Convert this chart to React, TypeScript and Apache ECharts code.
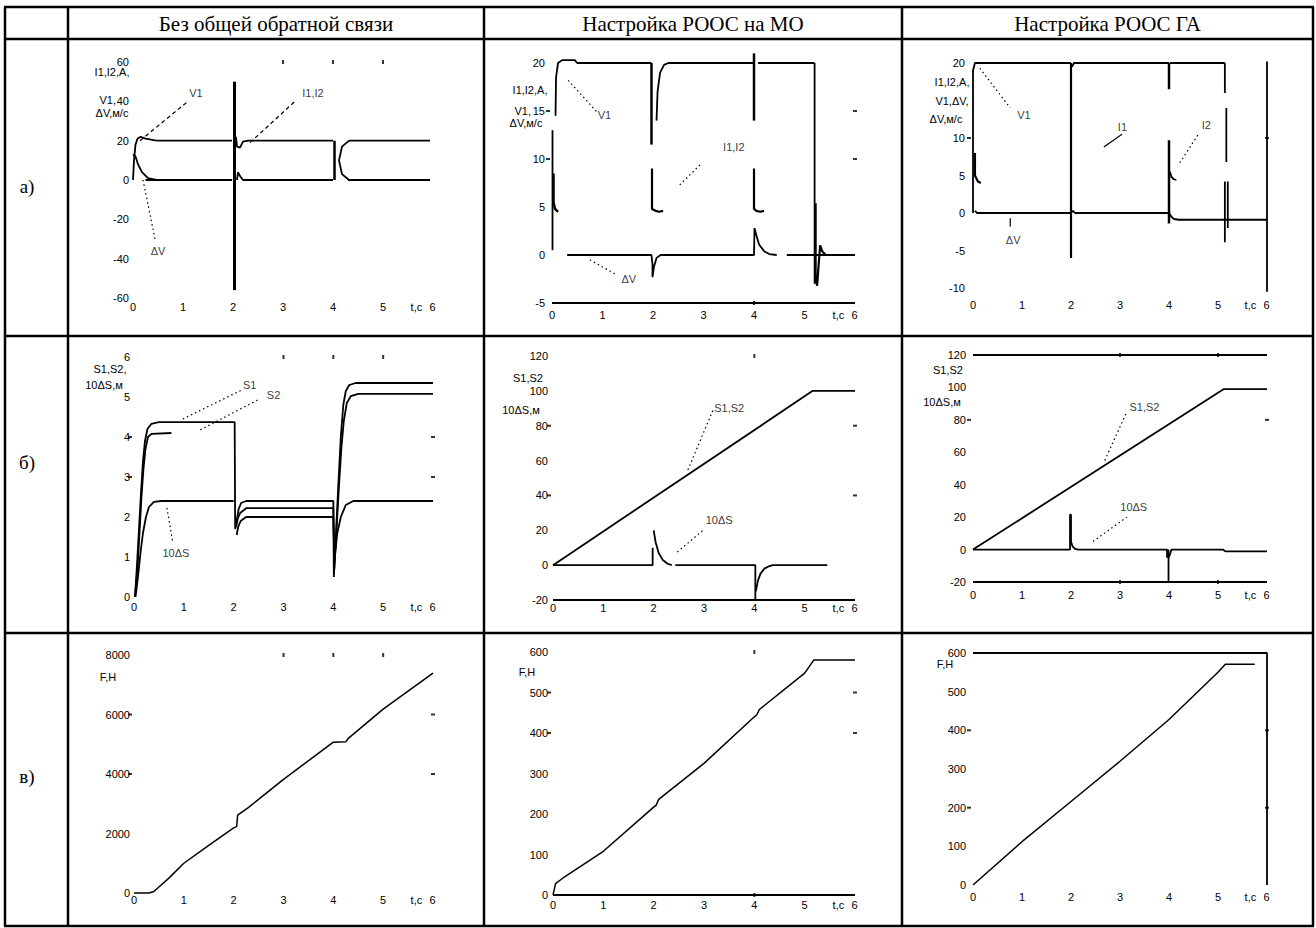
import React, { useEffect, useRef } from 'react';
import * as echarts from 'echarts';

type P = number[][];

// ---------- shared ----------
const X_TICKS = [0, 1, 2, 3, 4, 5, 6];
const HEADERS = ['Без общей обратной связи', 'Настройка РООС на МО', 'Настройка РООС ГА'];
const ROWS = ['а)', 'б)', 'в)'];

// ---------- row а, column 1 ----------
const a1YTicks = [60, 40, 20, 0, -20, -40, -60];
const a1StartUp = [[0, 0], [0.02, 10], [0.05, 18], [0.09, 21], [0.15, 22], [0.25, 21], [0.47, 20]];
const a1StartDown = [[0, 13], [0.05, 12], [0.1, 8], [0.18, 4], [0.3, 1], [0.47, 0]];
const a1Upper1 = [[0.47, 20], [1.98, 20]];
const a1Spike = [[2.03, 50], [2.03, -56]];
const a1Upper2 = [[2.06, 22], [2.08, 17], [2.14, 16.5], [2.2, 19.5], [2.3, 20], [4.0, 20]];
const a1Upper3 = [[4.32, 20], [5.94, 20]];
const a1Lower1 = [[0.25, 0], [1.98, 0]];
const a1Lower2 = [[2.08, 0], [2.1, 4], [2.14, 2], [2.2, 0], [4.0, 0]];
const a1Lower3 = [[4.3, 0], [5.94, 0]];
const a1Step4 = [[4.03, 20], [4.03, 0]];
const a1Curve4 = [[4.32, 20], [4.18, 17], [4.12, 10], [4.18, 3], [4.32, 0]];
const a1LeadV1 = [[0.14, 20], [1.1, 40]];
const a1LeadI = [[2.34, 19], [3.24, 40]];
const a1LeadDV = [[0.2, 0], [0.44, -30]];
const a1NoteV1 = [1.26, 44];
const a1NoteI = [3.6, 44];
const a1NoteDV = [0.5, -36];
const a1Top = [3, 4, 5];

// ---------- row а, column 2 ----------
const a2YTicks = [20, 15, 10, 5, 0, -5];
const a2Left = [[0.01, 13], [0.01, 0.5]];
const a2StartV = [[0.07, 14.5], [0.08, 18.5], [0.12, 20], [0.2, 20.3], [0.45, 20.3], [0.5, 20], [1.97, 20]];
const a2StartI = [[0.03, 8.5], [0.03, 5.5], [0.06, 4.8], [0.12, 4.5]];
const a2Drop2 = [[1.97, 20], [1.97, 11.5]];
const a2Rise2 = [[2.07, 14], [2.09, 17], [2.14, 19], [2.22, 19.8], [2.3, 20], [4.0, 20]];
const a2I2 = [[1.98, 9], [1.98, 4.8], [2.05, 4.6], [2.12, 4.5], [2.2, 4.6]];
const a2Drop4 = [[4.0, 21], [4.0, 14]];
const a2Top3 = [[4.08, 20], [5.2, 20]];
const a2I4 = [[4.0, 9], [4.0, 4.8], [4.05, 4.6], [4.12, 4.5], [4.2, 4.6]];
const a2Drop5 = [[5.2, 20], [5.2, -3]];
const a2Osc5 = [[5.22, 5.4], [5.22, -2.5], [5.25, -3.2], [5.28, -1], [5.31, 1], [5.35, 0.4], [5.42, 0]];
const a2Dv1 = [[0.3, 0], [1.97, 0], [1.99, -1], [1.99, -2.3], [2.02, -1.2], [2.07, -0.3], [2.15, 0], [4.0, 0], [4.01, 2.8], [4.05, 2], [4.1, 1.1], [4.2, 0.4], [4.3, 0.1], [4.45, 0]];
const a2Dv2 = [[4.65, 0], [6, 0]];
const a2Frame = [[0, -5], [6, -5]];
const a2LeadV1 = [[0.32, 18.2], [0.89, 14.9]];
const a2LeadDV = [[0.75, -0.5], [1.29, -2.1]];
const a2LeadI = [[2.53, 7.3], [2.97, 9.6]];
const a2NoteV1 = [1.04, 14.6];
const a2NoteDV = [1.52, -2.5];
const a2NoteI = [3.6, 11.2];
const a2Side = [15, 10];
const a2Bottom = [4];

// ---------- row а, column 3 ----------
const a3YTicks = [20, 10, 5, 0, -5, -10];
const a3Left = [[0, 0], [0, 19], [0.04, 20], [0.08, 20], [2.0, 20]];
const a3I0 = [[0.04, 8], [0.04, 5], [0.1, 4.2], [0.16, 4]];
const a3V2 = [[2.0, 20], [2.0, -6]];
const a3Top2 = [[2.02, 19.5], [2.06, 20], [4.0, 20]];
const a3V4a = [[4.0, 20], [4.0, 16.5]];
const a3V4b = [[4.0, 9.7], [4.0, -1.4]];
const a3I4 = [[4.02, 5.5], [4.05, 4.8], [4.1, 4.5], [4.15, 4.4]];
const a3Top3 = [[4.02, 20], [5.14, 20]];
const a3V5a = [[5.14, 20], [5.14, 16]];
const a3V5b = [[5.17, 14], [5.17, 6.8]];
const a3V5c = [[5.14, 4.2], [5.14, -3.9]];
const a3V5d = [[5.2, 4.2], [5.2, -2]];
const a3Bottom = [[0.04, 0.3], [0.08, 0], [2.0, 0], [2.04, 0.3], [2.08, 0], [4.0, 0], [4.05, -0.5], [4.1, -0.8], [4.2, -0.9], [6, -0.9]];
const a3Right = [[6, 20.2], [6, -10.5]];
const a3LeadV1 = [[0.14, 19.3], [0.76, 14]];
const a3LeadI1 = [[2.67, 8.8], [3.04, 10.5]];
const a3LeadI2 = [[4.22, 6.7], [4.59, 10.4]];
const a3LeadDV = [[0.76, -0.7], [0.76, -1.8]];
const a3NoteV1 = [1.04, 13.1];
const a3NoteI1 = [3.05, 11.5];
const a3NoteI2 = [4.76, 11.7];
const a3NoteDV = [0.82, -3.6];
const a3Side = [10];

// ---------- row б, column 1 ----------
const b1YTicks = [6, 5, 4, 3, 2, 1, 0];
const b1S1 = [[0.02, 0], [0.06, 0.8], [0.1, 1.7], [0.14, 2.6], [0.18, 3.4], [0.22, 3.9], [0.27, 4.2], [0.35, 4.33], [0.5, 4.37], [2.02, 4.37], [2.03, 1.7], [2.06, 1.9], [2.1, 2.2], [2.15, 2.35], [2.25, 2.4], [4.0, 2.4], [4.01, 0.5], [4.05, 1.5], [4.1, 2.8], [4.15, 4.0], [4.2, 4.8], [4.25, 5.15], [4.32, 5.3], [4.45, 5.35], [6.0, 5.35]];
const b1S2a = [[0.02, 0], [0.07, 0.7], [0.11, 1.6], [0.15, 2.5], [0.19, 3.2], [0.23, 3.7], [0.28, 4.0], [0.35, 4.08], [0.75, 4.1]];
const b1S2b = [[2.05, 1.75], [2.08, 1.95], [2.13, 2.1], [2.25, 2.22], [4.0, 2.22], [4.02, 0.7], [4.06, 1.6], [4.11, 2.7], [4.16, 3.7], [4.21, 4.4], [4.27, 4.85], [4.35, 5.02], [4.5, 5.08], [6.0, 5.08]];
const b1dSa = [[0.03, 0], [0.08, 0.5], [0.13, 1.1], [0.18, 1.6], [0.24, 2.0], [0.3, 2.25], [0.4, 2.38], [0.55, 2.4], [2.0, 2.4]];
const b1dSb = [[2.06, 1.55], [2.09, 1.75], [2.14, 1.9], [2.25, 2.0], [4.0, 2.0], [4.02, 0.9], [4.08, 1.6], [4.15, 2.0], [4.25, 2.3], [4.4, 2.4], [6.0, 2.4]];
const b1LeadS1 = [[0.98, 4.45], [2.17, 5.18]];
const b1LeadS2 = [[1.33, 4.18], [2.49, 4.93]];
const b1LeadDS = [[0.66, 2.23], [0.78, 1.35]];
const b1NoteS1 = [2.32, 5.3];
const b1NoteS2 = [2.8, 5.05];
const b1NoteDS = [0.84, 1.1];
const b1Top = [3, 4, 5];
const b1Side = [4, 3];

// ---------- row б, column 2 ----------
const b2YTicks = [120, 100, 80, 60, 40, 20, 0, -20];
const b2S = [[0, 0], [5.16, 100], [6, 100]];
const b2dS1 = [[0, 0], [1.98, 0], [1.98, 10]];
const b2dS2 = [[2.0, 20], [2.04, 13], [2.1, 7], [2.18, 3], [2.28, 0.8], [2.36, 0]];
const b2dS3 = [[2.43, 0], [4.02, 0], [4.02, -20]];
const b2dS4 = [[4.03, -15], [4.07, -9], [4.12, -5], [4.2, -2], [4.3, -0.5], [4.37, 0], [5.45, 0]];
const b2Frame = [[0, -20], [6, -20]];
const b2LeadS = [[2.68, 54.6], [3.18, 89]];
const b2LeadDS = [[2.47, 7.5], [2.98, 20]];
const b2NoteS = [3.5, 90];
const b2NoteDS = [3.3, 26];
const b2Top = [4];
const b2Side = [80, 40];

// ---------- row б, column 3 ----------
const b3YTicks = [120, 100, 80, 60, 40, 20, 0, -20];
const b3S = [[0, 0], [5.12, 99], [6, 99]];
const b3dS1 = [[0, 0], [1.98, 0], [1.98, 21.5], [2.0, 21.5], [2.0, 5], [2.03, 2], [2.08, 0.5], [2.15, 0], [3.96, 0], [3.96, -5]];
const b3dS2 = [[3.99, 0], [3.99, -20.5]];
const b3dS3 = [[3.99, -5], [4.02, -3], [4.05, 0], [5.1, 0], [5.15, -1.1], [6, -1.1]];
const b3FrameTop = [[0, 120], [6, 120]];
const b3FrameBottom = [[0, -20], [6, -20]];
const b3LeadS = [[2.69, 55], [3.14, 85]];
const b3LeadDS = [[2.45, 5], [3.14, 20]];
const b3NoteS = [3.5, 88];
const b3NoteDS = [3.28, 26.5];
const b3Top = [3, 5];
const b3Bottom = [3, 5];
const b3Side = [80];

// ---------- row в ----------
const c1YTicks = [8000, 6000, 4000, 2000, 0];
const c1F = [[0, 0], [0.3, 0], [0.4, 50], [0.5, 200], [0.7, 500], [1, 1000], [1.5, 1600], [2.0, 2190], [2.06, 2230], [2.08, 2620], [2.3, 2880], [3, 3820], [4.0, 5070], [4.25, 5080], [4.3, 5200], [5, 6180], [6, 7390]];
const c1Top = [3, 4, 5];
const c1Side = [6000, 4000];

const c2YTicks = [600, 500, 400, 300, 200, 100, 0];
const c2F = [[0, 0], [0.05, 28], [0.2, 42], [1, 108], [2, 217], [2.05, 222], [2.1, 236], [3, 325], [4, 440], [4.05, 445], [4.1, 458], [5, 548], [5.18, 580], [6, 580]];
const c2Frame = [[0, 0], [6, 0]];
const c2Top = [4];
const c2Bottom = [4];
const c2Side = [500, 400];

const c3YTicks = [600, 500, 400, 300, 200, 100, 0];
const c3F = [[0, 0], [1, 112], [2, 216], [3, 320], [4, 428], [5, 550], [5.15, 571], [5.75, 571]];
const c3Frame = [[0, 600], [6, 600], [6, 0]];
const c3Side = [400, 200];

// ---------- layout ----------
const FONT = '"Liberation Sans", Arial, sans-serif';
const SERIF = '"Liberation Serif", "Times New Roman", serif';

interface Trace { d: P; w?: number }
interface Leader { d: P; s: 'dot' | 'dash' | 'solid' }
interface Note { at: number[]; text: string }
interface NameLine { text: string; x: number; y: number; align?: string }
interface Cell {
  box: number[];
  yMin: number; yMax: number; yStep: number; yTicks: number[];
  xMargin: number; yMargin: number;
  traces: Trace[]; leaders: Leader[]; notes: Note[];
  top?: number[]; bottom?: number[]; side?: number[];
  names: NameLine[];
}

const cells: Cell[] = [
  {
    box: [133, 62, 300, 236], yMin: -60, yMax: 60, yStep: 20, yTicks: a1YTicks, xMargin: 3, yMargin: 4,
    traces: [{ d: a1StartUp }, { d: a1StartDown }, { d: a1Upper1 }, { d: a1Spike, w: 3 }, { d: a1Upper2 }, { d: a1Upper3 }, { d: a1Lower1 }, { d: a1Lower2 }, { d: a1Lower3 }, { d: a1Step4, w: 2.5 }, { d: a1Curve4 }],
    leaders: [{ d: a1LeadV1, s: 'dash' }, { d: a1LeadI, s: 'dash' }, { d: a1LeadDV, s: 'dot' }],
    notes: [{ at: a1NoteV1, text: 'V1' }, { at: a1NoteI, text: 'I1,I2' }, { at: a1NoteDV, text: 'ΔV' }],
    top: a1Top,
    names: [{ text: 'I1,I2,A,', x: 112, y: 72 }, { text: 'V1,', x: 116, y: 100, align: 'right' }, { text: 'ΔV,м/с', x: 112, y: 113 }],
  },
  {
    box: [552, 63, 303, 240], yMin: -5, yMax: 20, yStep: 5, yTicks: a2YTicks, xMargin: 6, yMargin: 7,
    traces: [{ d: a2Left }, { d: a2StartV }, { d: a2StartI, w: 2.5 }, { d: a2Drop2, w: 2.5 }, { d: a2Rise2 }, { d: a2I2, w: 2.2 }, { d: a2Drop4, w: 2.5 }, { d: a2Top3 }, { d: a2I4, w: 2.2 }, { d: a2Drop5 }, { d: a2Osc5, w: 2.2 }, { d: a2Dv1 }, { d: a2Dv2 }, { d: a2Frame }],
    leaders: [{ d: a2LeadV1, s: 'dot' }, { d: a2LeadDV, s: 'dot' }, { d: a2LeadI, s: 'dot' }],
    notes: [{ at: a2NoteV1, text: 'V1' }, { at: a2NoteDV, text: 'ΔV' }, { at: a2NoteI, text: 'I1,I2' }],
    bottom: a2Bottom, side: a2Side,
    names: [{ text: 'I1,I2,A,', x: 530, y: 90 }, { text: 'V1,', x: 531, y: 111, align: 'right' }, { text: 'ΔV,м/с', x: 526, y: 123 }],
  },
  {
    box: [973, 63, 294, 225], yMin: -10, yMax: 20, yStep: 5, yTicks: a3YTicks, xMargin: 11, yMargin: 8,
    traces: [{ d: a3Left }, { d: a3I0, w: 2.2 }, { d: a3V2, w: 2.2 }, { d: a3Top2 }, { d: a3V4a, w: 2.5 }, { d: a3V4b, w: 2.5 }, { d: a3I4 }, { d: a3Top3 }, { d: a3V5a }, { d: a3V5b }, { d: a3V5c }, { d: a3V5d }, { d: a3Bottom }, { d: a3Right }],
    leaders: [{ d: a3LeadV1, s: 'dot' }, { d: a3LeadI1, s: 'solid' }, { d: a3LeadI2, s: 'dot' }, { d: a3LeadDV, s: 'solid' }],
    notes: [{ at: a3NoteV1, text: 'V1' }, { at: a3NoteI1, text: 'I1' }, { at: a3NoteI2, text: 'I2' }, { at: a3NoteDV, text: 'ΔV' }],
    side: a3Side,
    names: [{ text: 'I1,I2,A,', x: 952, y: 82 }, { text: 'V1,ΔV,', x: 952, y: 101 }, { text: 'ΔV,м/с', x: 946, y: 119 }],
  },
  {
    box: [134, 357, 299, 240], yMin: 0, yMax: 6, yStep: 1, yTicks: b1YTicks, xMargin: 4, yMargin: 4,
    traces: [{ d: b1S1 }, { d: b1S2a }, { d: b1S2b }, { d: b1dSa }, { d: b1dSb }],
    leaders: [{ d: b1LeadS1, s: 'dot' }, { d: b1LeadS2, s: 'dot' }, { d: b1LeadDS, s: 'dot' }],
    notes: [{ at: b1NoteS1, text: 'S1' }, { at: b1NoteS2, text: 'S2' }, { at: b1NoteDS, text: '10ΔS' }],
    top: b1Top, side: b1Side,
    names: [{ text: 'S1,S2,', x: 110, y: 369 }, { text: '10ΔS,м', x: 104, y: 385 }],
  },
  {
    box: [553, 356, 302, 244], yMin: -20, yMax: 120, yStep: 20, yTicks: b2YTicks, xMargin: 2, yMargin: 5,
    traces: [{ d: b2S }, { d: b2dS1 }, { d: b2dS2 }, { d: b2dS3 }, { d: b2dS4 }, { d: b2Frame }],
    leaders: [{ d: b2LeadS, s: 'dot' }, { d: b2LeadDS, s: 'dot' }],
    notes: [{ at: b2NoteS, text: 'S1,S2' }, { at: b2NoteDS, text: '10ΔS' }],
    top: b2Top, side: b2Side,
    names: [{ text: 'S1,S2', x: 528, y: 378 }, { text: '10ΔS,м', x: 521, y: 410 }],
  },
  {
    box: [973, 355, 294, 227], yMin: -20, yMax: 120, yStep: 20, yTicks: b3YTicks, xMargin: 7, yMargin: 7,
    traces: [{ d: b3S }, { d: b3dS1 }, { d: b3dS2 }, { d: b3dS3 }, { d: b3FrameTop }, { d: b3FrameBottom }],
    leaders: [{ d: b3LeadS, s: 'dot' }, { d: b3LeadDS, s: 'dot' }],
    notes: [{ at: b3NoteS, text: 'S1,S2' }, { at: b3NoteDS, text: '10ΔS' }],
    top: b3Top, bottom: b3Bottom, side: b3Side,
    names: [{ text: 'S1,S2', x: 948, y: 370 }, { text: '10ΔS,м', x: 942, y: 402 }],
  },
  {
    box: [134, 655, 299, 238], yMin: 0, yMax: 8000, yStep: 2000, yTicks: c1YTicks, xMargin: 1, yMargin: 4,
    traces: [{ d: c1F, w: 1.5 }], leaders: [], notes: [],
    top: c1Top, side: c1Side,
    names: [{ text: 'F,Н', x: 108, y: 677 }],
  },
  {
    box: [553, 652, 302, 243], yMin: 0, yMax: 600, yStep: 100, yTicks: c2YTicks, xMargin: 4, yMargin: 5,
    traces: [{ d: c2F, w: 1.5 }, { d: c2Frame }], leaders: [], notes: [],
    top: c2Top, bottom: c2Bottom, side: c2Side,
    names: [{ text: 'F,Н', x: 527, y: 672 }],
  },
  {
    box: [973, 653, 294, 232], yMin: 0, yMax: 600, yStep: 100, yTicks: c3YTicks, xMargin: 6, yMargin: 7,
    traces: [{ d: c3F, w: 1.5 }, { d: c3Frame }], leaders: [], notes: [],
    side: c3Side,
    names: [{ text: 'F,Н', x: 945, y: 664 }],
  },
];

const TABLE_X = [5, 68, 484, 902, 1313];
const TABLE_Y = [7, 39, 336, 633, 926];

function buildOption() {
  const grid: any[] = [];
  const xAxis: any[] = [];
  const yAxis: any[] = [];
  const series: any[] = [];
  const graphic: any[] = [];

  cells.forEach((c, gi) => {
    const [left, top, width, height] = c.box;
    grid.push({ left, top, width, height, containLabel: false });
    xAxis.push({
      gridIndex: gi, type: 'value', min: 0, max: 6, interval: 1,
      axisLine: { show: false }, axisTick: { show: false }, splitLine: { show: false },
      axisLabel: {
        margin: c.xMargin, fontSize: 11, color: '#000', fontFamily: FONT,
        formatter: (v: number) => (X_TICKS.indexOf(v) < 0 ? '' : v === 6 ? '{a|t,c} 6{p| }' : String(v)),
        rich: {
          a: { width: 20, align: 'right', fontSize: 11, fontFamily: FONT, color: '#000' },
          p: { width: 24, fontSize: 11 },
        },
      },
    });
    yAxis.push({
      gridIndex: gi, type: 'value', min: c.yMin, max: c.yMax, interval: c.yStep,
      axisLine: { show: false }, axisTick: { show: false }, splitLine: { show: false },
      axisLabel: {
        margin: c.yMargin, fontSize: 11, color: '#000', fontFamily: FONT,
        formatter: (v: number) => (c.yTicks.indexOf(v) >= 0 ? String(v) : ''),
      },
    });
    const base = { xAxisIndex: gi, yAxisIndex: gi, silent: true, animation: false };
    c.traces.forEach((t) => {
      series.push({ ...base, type: 'line', data: t.d, symbol: 'none', showSymbol: false, clip: false, lineStyle: { color: '#000', width: t.w ?? 1.8 }, z: 3 });
    });
    c.leaders.forEach((l) => {
      const type = l.s === 'dot' ? [1.5, 3] : l.s === 'dash' ? [4, 3] : 'solid';
      series.push({ ...base, type: 'line', data: l.d, symbol: 'none', showSymbol: false, clip: false, lineStyle: { color: '#000', width: 1.2, type }, z: 2 });
    });
    c.notes.forEach((n) => {
      series.push({
        ...base, type: 'scatter', data: [n.at], symbolSize: 1, itemStyle: { color: 'rgba(0,0,0,0)' },
        label: { show: true, position: 'inside', formatter: n.text, color: '#000', fontSize: 11, fontFamily: FONT },
      });
    });
    if (c.top) {
      series.push({ ...base, type: 'scatter', symbol: 'rect', symbolSize: [2, 4], data: c.top.map((t) => [t, c.yMax]), itemStyle: { color: '#000' } });
    }
    if (c.bottom) {
      series.push({ ...base, type: 'scatter', symbol: 'rect', symbolSize: [2, 4], data: c.bottom.map((t) => [t, c.yMin]), itemStyle: { color: '#000' } });
    }
    if (c.side) {
      series.push({ ...base, type: 'scatter', symbol: 'rect', symbolSize: [4, 2], data: c.side.map((v) => [6, v]), itemStyle: { color: '#000' } });
      series.push({ ...base, type: 'scatter', symbol: 'rect', symbolSize: [4, 2], symbolOffset: [-4, 0], data: c.side.map((v) => [0, v]), itemStyle: { color: '#000' } });
    }
    c.names.forEach((n) => {
      graphic.push({
        type: 'text', x: n.x, y: n.y, silent: true,
        style: { text: n.text, fill: '#000', font: `11px ${FONT}`, textAlign: n.align || 'center', textVerticalAlign: 'middle', align: n.align || 'center', verticalAlign: 'middle' },
      });
    });
  });

  // table lines
  TABLE_Y.forEach((y) => {
    graphic.push({ type: 'line', silent: true, shape: { x1: TABLE_X[0] - 1, y1: y, x2: TABLE_X[4] + 1, y2: y }, style: { stroke: '#000', lineWidth: 2.5 } });
  });
  TABLE_X.forEach((x) => {
    graphic.push({ type: 'line', silent: true, shape: { x1: x, y1: TABLE_Y[0], x2: x, y2: TABLE_Y[4] }, style: { stroke: '#000', lineWidth: 2.5 } });
  });
  HEADERS.forEach((h, i) => {
    graphic.push({
      type: 'text', silent: true, x: (TABLE_X[i + 1] + TABLE_X[i + 2]) / 2, y: (TABLE_Y[0] + TABLE_Y[1]) / 2 + 1,
      style: { text: h, fill: '#000', font: `21px ${SERIF}`, textAlign: 'center', textVerticalAlign: 'middle', align: 'center', verticalAlign: 'middle' },
    });
  });
  const rowY = [186, 462, 776];
  ROWS.forEach((r, i) => {
    graphic.push({
      type: 'text', silent: true, x: 27, y: rowY[i],
      style: { text: r, fill: '#000', font: `19px ${SERIF}`, textAlign: 'center', textVerticalAlign: 'middle', align: 'center', verticalAlign: 'middle' },
    });
  });

  return { animation: false, backgroundColor: '#fff', grid, xAxis, yAxis, series, graphic };
}

export default function App() {
  const ref = useRef<HTMLDivElement>(null);
  useEffect(() => {
    if (!ref.current) return;
    const chart = echarts.init(ref.current, null, { renderer: 'svg' });
    chart.setOption(buildOption());
    return () => chart.dispose();
  }, []);
  return <div ref={ref} style={{ position: 'absolute', left: 0, top: 0, width: 1316, height: 928, background: '#fff' }} />;
}
